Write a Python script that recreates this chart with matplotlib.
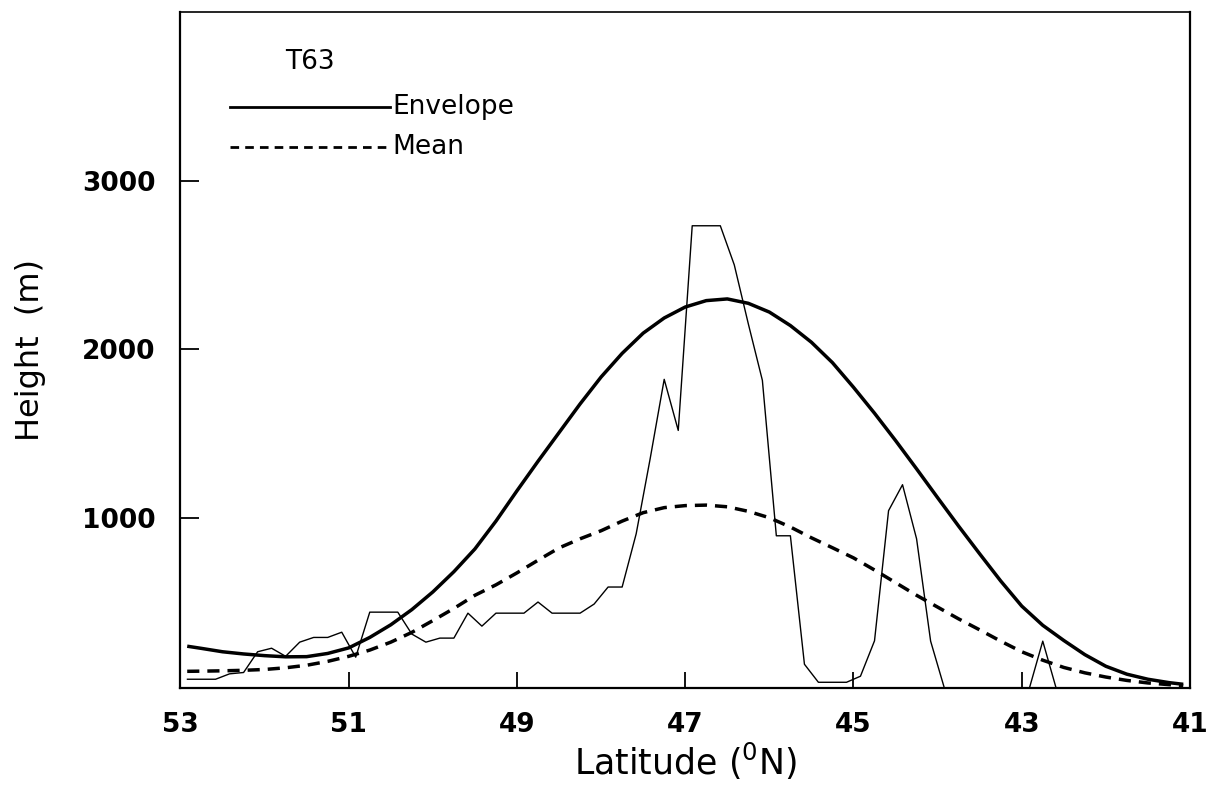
import matplotlib
matplotlib.use("Agg")
import matplotlib.pyplot as plt

plt.rcParams["font.family"] = ["DejaVu Sans"]
plt.rcParams["mathtext.fontset"] = "dejavusans"

# Raw T63 grid-box orography along the section (10' grid)
terrain_lat = [52.917, 52.750, 52.583, 52.417, 52.250, 52.083, 51.917, 51.750,
               51.583, 51.417, 51.250, 51.083, 50.917, 50.750, 50.583, 50.417,
               50.250, 50.083, 49.917, 49.750, 49.583, 49.417, 49.250, 49.083,
               48.917, 48.750, 48.583, 48.417, 48.250, 48.083, 47.917, 47.750,
               47.583, 47.417, 47.250, 47.083, 46.917, 46.750, 46.583, 46.417,
               46.250, 46.083, 45.917, 45.750, 45.583, 45.417, 45.250, 45.083,
               44.917, 44.750, 44.583, 44.417, 44.250, 44.083, 43.917, 43.750,
               43.583, 43.417, 43.250, 43.083, 42.917, 42.750, 42.583, 42.417,
               42.250, 42.083, 41.917, 41.750, 41.583, 41.417, 41.250, 41.083]
terrain_h = [42, 42, 42, 74, 82, 205, 226, 178,
             262, 290, 290, 321, 173, 440, 440, 440,
             310, 262, 286, 286, 434, 357, 434, 434,
             434, 500, 434, 434, 434, 488, 589, 589,
             905, 1350, 1821, 1518, 2732, 2732, 2732, 2500,
             2150, 1815, 893, 893, 131, 24, 24, 24,
             60, 270, 1042, 1196, 875, 268, -15, -300,
             -300, -300, -300, -300, -25, 268, -25, -300,
             -300, -300, -300, -300, -300, -300, -300, -300]

# Envelope and mean orography
smooth_lat = [52.92, 52.75, 52.5, 52.25, 52.0, 51.75, 51.5, 51.25, 51.0,
              50.75, 50.5, 50.25, 50.0, 49.75, 49.5, 49.25, 49.0, 48.75,
              48.5, 48.25, 48.0, 47.75, 47.5, 47.25, 47.0, 46.75, 46.5,
              46.25, 46.0, 45.75, 45.5, 45.25, 45.0, 44.75, 44.5, 44.25,
              44.0, 43.75, 43.5, 43.25, 43.0, 42.75, 42.5, 42.25, 42.0,
              41.75, 41.5, 41.25, 41.08]
envelope_h = [238, 225, 205, 192, 182, 175, 176, 195, 228,
              290, 365, 455, 560, 680, 815, 980, 1160, 1335,
              1505, 1675, 1835, 1975, 2095, 2185, 2250, 2288, 2298,
              2272, 2220, 2140, 2041, 1920, 1774, 1620, 1458, 1290,
              1119, 950, 786, 625, 476, 362, 272, 188, 119,
              72, 42, 22, 12]
mean_h = [89, 90, 92, 95, 100, 110, 125, 148, 178,
          215, 262, 320, 390, 462, 540, 602, 673, 748,
          821, 875, 923, 980, 1030, 1060, 1072, 1075, 1065,
          1038, 1000, 945, 881, 822, 762, 690, 615, 540,
          470, 400, 335, 268, 205, 155, 112, 80, 55,
          35, 20, 10, 4]

x_ticks = [53, 51, 49, 47, 45, 43, 41]
y_ticks = [1000, 2000, 3000]

fig = plt.figure(figsize=(12.17, 7.90), dpi=100)
ax = fig.add_axes([0.1483, 0.1291, 0.8295, 0.8557])

ax.plot(terrain_lat, terrain_h, color="black", lw=1.0)
ax.plot(smooth_lat, envelope_h, color="black", lw=2.5, solid_capstyle="butt",
        solid_joinstyle="round")
ax.plot(smooth_lat, mean_h, color="black", lw=2.5,
        linestyle=(0, (3.5, 2.3)))

ax.set_xlim(53, 41)
ax.set_ylim(-10, 4000)
ax.set_xticks(x_ticks)
ax.set_xticklabels([str(v) for v in x_ticks], fontweight="bold")
ax.set_yticks(y_ticks)
ax.set_yticklabels([str(v) for v in y_ticks], fontweight="bold")

ax.tick_params(axis="x", direction="in", length=11.5, width=1.3,
               labelsize=19, pad=17)
ax.tick_params(axis="y", direction="in", length=14, width=1.3,
               labelsize=19, pad=18)
for side in ("left", "bottom", "right"):
    ax.spines[side].set_linewidth(1.6)
ax.spines["top"].set_linewidth(1.2)

ax.set_xlabel(r"Latitude ($^{\mathrm{0}}$N)", fontsize=25, labelpad=2)
ax.set_ylabel("Height  (m)", fontsize=23, labelpad=26)

# Legend drawn as lines and labels inside the axes
ax.text(0.1035, 0.926, "T63", transform=ax.transAxes, fontsize=19,
        ha="left", va="center")
ax.plot([0.049, 0.2075], [0.8595, 0.8595], transform=ax.transAxes,
        color="black", lw=2.0)
ax.text(0.2095, 0.8595, "Envelope", transform=ax.transAxes, fontsize=19,
        ha="left", va="center")
ax.plot([0.049, 0.2075], [0.800, 0.800], transform=ax.transAxes,
        color="black", lw=2.0, linestyle=(0, (3.1, 2.2)))
ax.text(0.2095, 0.800, "Mean", transform=ax.transAxes, fontsize=19,
        ha="left", va="center")

fig.savefig("out.png", dpi=100)
